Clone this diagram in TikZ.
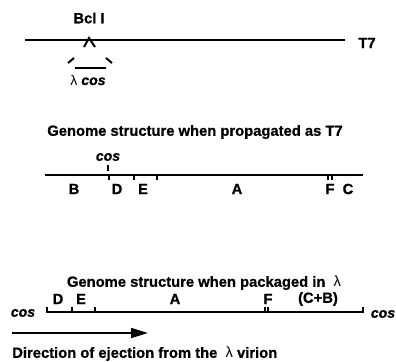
\documentclass[tikz,border=0pt]{standalone}
\usepackage{fontspec}
\setmainfont{Liberation Sans}[BoldFeatures={FakeBold=0.8},BoldItalicFeatures={FakeBold=0.8}]
\usetikzlibrary{arrows.meta}

\begin{document}
\begin{tikzpicture}[x=0.025cm,y=-0.025cm,line cap=butt,
  font=\bfseries\fontsize{10.5}{12}\selectfont,
  lbl/.style={inner sep=0pt},
  cosl/.style={inner sep=0pt,font=\bfseries\itshape\fontsize{10}{11}\selectfont},
  dna/.style={line width=2pt},
  tk/.style={line width=1.4pt}]
\useasboundingbox (0,0) rectangle (396,362);
% T7 with the lambda cos put in at Bcl I
\coordinate (t7a) at (25,40);
\coordinate (t7b) at (345,40);
\draw[line width=1.4pt] (t7a) -- (t7b);
\draw[dna] (108,40) -- (267,40);
\node[lbl] (bcl) at (89,18) {Bcl I};
\node[lbl] (t7) at (367,43) {T7};
\draw[tk] (84,47) -- (89,38) -- (95,47);
\draw[tk] (68,63) -- (74,58);
\draw[tk] (106,58) -- (112,63);
\draw[dna] (75,68) -- (106,68);
\node[lbl] (lcos) at (88,80) {\fontsize{10}{11}\mdseries λ \itshape\bfseries cos};
% propagated as T7
\node[lbl] (ttl1) at (195,132) {Genome structure when propagated as T7};
\node[cosl] (cos1) at (108,157) {cos};
\draw[tk] (108,165) -- (108,171);
\coordinate (p1) at (45,175);
\coordinate (p2) at (363,175);
\draw[dna] (p1) -- (p2);
\foreach \x in {109,134,157,328,332}
  \draw[tk] (\x,175) -- (\x,180);
\foreach \x/\t in {74/B,117/D,143/E,237/A,330/F,348/C}
  \node[lbl] (g\t) at (\x,189) {\t};
% packaged in lambda
\node[lbl] (ttl2) at (204,283) {Genome structure when packaged in\ \ \mdseries λ};
\coordinate (q1) at (47,312);
\coordinate (q2) at (363,312);
\draw[line width=1.4pt] (q1) -- (q2);
\foreach \x in {47,72,95,265,268,363}
  \draw[tk] (\x,312.5) -- (\x,306.5);
\foreach \x/\t/\n in {58/D/d,81/E/e,175/A/a,268/F/f,318/(C+B)/cb}
  \node[lbl] (h\n) at (\x,299) {\t};
\node[cosl] (cosl) at (23,313) {cos};
\node[cosl] (cosr) at (383,314) {cos};
% ejection
\coordinate (ea) at (12,333);
\coordinate (eb) at (148,333);
\draw[line width=1.4pt,-{Triangle[length=12pt,width=7pt]}] (ea) -- (eb);
\node[lbl,anchor=west] (ej) at (12,354) {Direction of ejection from the\ \ {\mdseries λ} virion};
\end{tikzpicture}
\end{document}
